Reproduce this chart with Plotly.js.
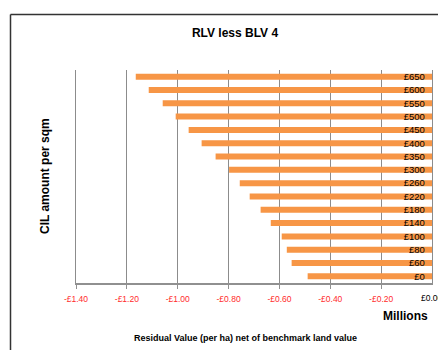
<!DOCTYPE html>
<html>
<head>
<meta charset="utf-8">
<script src="https://cdn.plot.ly/plotly-3.0.1.min.js"></script>
<style>
html,body{margin:0;padding:0;background:#fff;}
#chart{width:438px;height:350px;}
</style>
</head>
<body>
<div id="chart"></div>
<script>
// Data (values in £ millions)
const categories = ['£0','£60','£80','£100','£140','£180','£220','£260','£300','£350','£400','£450','£500','£550','£600','£650'];
const residualValues = [-0.489,-0.552,-0.571,-0.591,-0.634,-0.674,-0.717,-0.756,-0.798,-0.851,-0.906,-0.957,-1.008,-1.059,-1.114,-1.165];
const xTickVals = [-1.4,-1.2,-1.0,-0.8,-0.6,-0.4,-0.2,0];
const xTickLabels = ['-£1.40','-£1.20','-£1.00','-£0.80','-£0.60','-£0.40','-£0.20','£0.00'];

const red = '#ff2b2b';
const tickText = xTickLabels.map((t, i) => xTickVals[i] < 0 ? '<span style="color:' + red + '">' + t + '</span>' : '');
// label for the zero tick (drawn as an annotation so it can run off the page edge)
const zeroIdx = xTickVals.indexOf(0);

const trace = {
  type: 'bar',
  orientation: 'h',
  y: categories,
  x: residualValues,
  marker: {color: '#F79646', line: {width: 0}},
  hoverinfo: 'x+y'
};

const layout = {
  width: 438,
  height: 350,
  margin: {l: 76, r: 6, t: 70, b: 67},
  paper_bgcolor: '#ffffff',
  plot_bgcolor: '#ffffff',
  showlegend: false,
  bargap: 0.55,
  font: {family: 'Liberation Sans, Arial, sans-serif', color: '#000'},
  title: {
    text: '<b>RLV less BLV 4</b>',
    font: {size: 12, color: '#000', family: 'Liberation Sans, Arial, sans-serif'},
    xref: 'container', x: 235/438, xanchor: 'center',
    yref: 'container', y: 1 - 33/350, yanchor: 'middle'
  },
  xaxis: {
    range: [-1.4, 0],
    tickvals: xTickVals,
    ticktext: tickText,
    tickfont: {size: 8.5, color: '#000'},
    ticklabeloverflow: 'allow',
    ticklabelstandoff: 3,
    showgrid: true,
    gridcolor: '#8c8c8c',
    gridwidth: 1,
    zeroline: false,
    showline: true,
    linecolor: '#909090',
    linewidth: 1.5,
    ticks: 'outside',
    ticklen: 4,
    tickcolor: '#909090',
    fixedrange: true
  },
  yaxis: {
    type: 'category',
    side: 'right',
    ticklabelposition: 'inside',
    ticks: '',
    ticklabelstandoff: 6,
    tickfont: {size: 9.5, color: '#000'},
    showgrid: false,
    zeroline: false,
    showline: true,
    mirror: true,
    linecolor: '#8c8c8c',
    linewidth: 1,
    fixedrange: true
  },
  shapes: [
    {type: 'line', xref: 'paper', yref: 'paper', x0: (10.5-76)/356, x1: 2, y0: 1 + (70-14.5)/213, y1: 1 + (70-14.5)/213, line: {color: '#333', width: 1.5}},
    {type: 'line', xref: 'paper', yref: 'paper', x0: (10.5-76)/356, x1: (10.5-76)/356, y0: 1 + (70-14.5)/213, y1: -2, line: {color: '#333', width: 1.5}}
  ],
  annotations: [
    {text: xTickLabels[zeroIdx], xref: 'x', yref: 'paper', x: xTickVals[zeroIdx], y: -(298-283)/213, xanchor: 'center', yanchor: 'middle', showarrow: false, font: {size: 8.5, color: '#000'}},
    {text: '<b>CIL amount per sqm</b>', xref: 'paper', yref: 'paper', x: (45-76)/356, y: (283-176)/213, xanchor: 'center', yanchor: 'middle', textangle: -90, showarrow: false, font: {size: 12, color: '#000'}},
    {text: '<b>Millions</b>', xref: 'paper', yref: 'paper', x: (430-76)/356, y: -(316-283)/213, xanchor: 'right', yanchor: 'middle', showarrow: false, font: {size: 12, color: '#000'}},
    {text: '<b>Residual Value (per ha) net of benchmark land value</b>', xref: 'paper', yref: 'paper', x: (245-76)/356, y: -(338-283)/213, xanchor: 'center', yanchor: 'middle', showarrow: false, font: {size: 9, color: '#000'}}
  ]
};

Plotly.newPlot('chart', [trace], layout, {displayModeBar: false, staticPlot: true});
</script>
</body>
</html>
